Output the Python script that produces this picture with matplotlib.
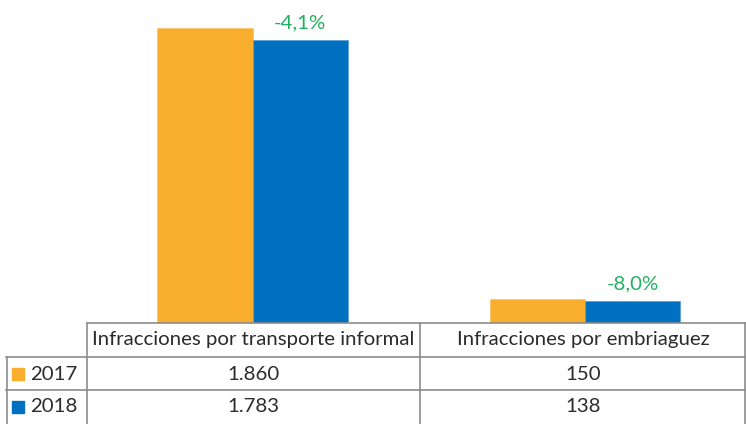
import matplotlib
matplotlib.use("Agg")
import matplotlib.pyplot as plt
import numpy as np
from matplotlib.lines import Line2D
from matplotlib.patches import Rectangle

categories = ["Infracciones por transporte informal", "Infracciones por embriaguez"]
years = ["2017", "2018"]
values_2017 = [1860, 150]
values_2018 = [1783, 138]
value_labels_2017 = ["1.860", "150"]
value_labels_2018 = ["1.783", "138"]
changes = ["-4,1%", "-8,0%"]

orange = "#F9AE2E"
blue = "#0070C0"
green = "#22B060"
grid = "#8C8C8C"
txt = "#2B2B2B"

plt.rcParams["font.family"] = ["Lato", "DejaVu Sans"]
fs = 14.7

W, H = 746, 424
fig = plt.figure(figsize=(W / 100, H / 100), dpi=100)

def fx(px):
    return px / W

def fy(py):
    return 1 - py / H

# plot area in pixel terms
left, right, base, top = 87, 746, 322.5, 0
ax = fig.add_axes([fx(left), fy(base), fx(right - left), (base - top) / H])
x = np.arange(len(categories))
w = 0.286
ax.bar(x - w / 2, values_2017, w, color=orange, edgecolor="#FBC66B", linewidth=0.6)
ax.bar(x + w / 2, values_2018, w, color=blue, edgecolor="#5DA0D8", linewidth=0.6)
ax.set_xlim(-(252.5 - left) / 332.5, (right - 252.5) / 332.5)
ax.set_ylim(0, 1860 * base / 294.5)
for i, c in enumerate(changes):
    ax.annotate(c, (x[i] + w / 2, values_2018[i]), xytext=(0, 6),
                textcoords="offset points", ha="center", va="bottom",
                color=green, fontsize=fs)
ax.axis("off")

# data table
def hline(y, x0, x1):
    fig.add_artist(Line2D([fx(x0), fx(x1)], [fy(y), fy(y)], color=grid, lw=1.2))

def vline(xp, y0, y1):
    fig.add_artist(Line2D([fx(xp), fx(xp)], [fy(y0), fy(y1)], color=grid, lw=1.2))

hline(323, 87, 746)
hline(357, 6, 746)
hline(390, 6, 746)
vline(87, 323, 424)
vline(420, 323, 424)
vline(745, 323, 424)
vline(6.5, 357, 424)

col_centers = [253.5, 583]
row_y = [340, 374, 407]
for cx, cat in zip(col_centers, categories):
    fig.text(fx(cx), fy(row_y[0]), cat, ha="center", va="center",
             fontsize=fs, color=txt)
for r, (yr, col, labels) in enumerate(zip(years, [orange, blue],
                                           [value_labels_2017, value_labels_2018])):
    yy = row_y[r + 1]
    fig.add_artist(Rectangle((fx(12), fy(yy + 6)), fx(12), 12 / H, color=col,
                             transform=fig.transFigure))
    fig.text(fx(30), fy(yy), yr, ha="left", va="center", fontsize=fs, color=txt)
    for cx, lab in zip(col_centers, labels):
        fig.text(fx(cx), fy(yy), lab, ha="center", va="center", fontsize=fs,
                 color=txt)

fig.savefig("out.png", dpi=100)
